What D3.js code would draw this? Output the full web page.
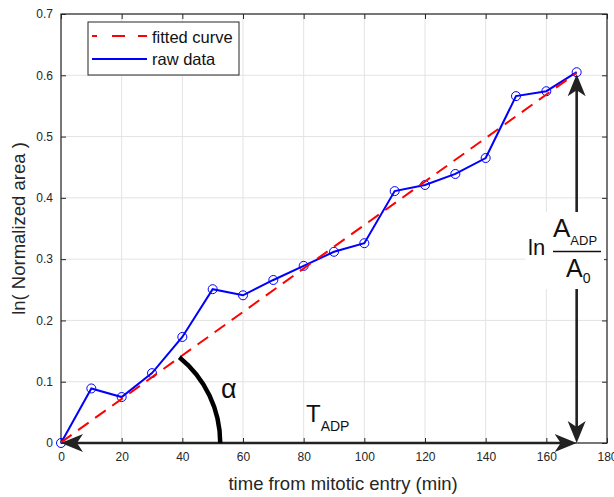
<!DOCTYPE html>
<html>
<head>
<meta charset="utf-8">
<script src="https://cdn.jsdelivr.net/npm/d3@7"></script>
<style>
  body { margin: 0; background: #fff; }
  text { font-family: "Liberation Sans", Arial, sans-serif; }
</style>
</head>
<body>
<figure id="growth" style="margin:0"></figure>
<script>
// raw data (time in min, ln of normalized area)
var times = [0, 10, 20, 30, 40, 50, 60, 70, 80, 90, 100, 110, 120, 130, 140, 150, 160, 170];
var lnArea = [0, 0.089, 0.075, 0.114, 0.173, 0.251, 0.241, 0.266, 0.289, 0.312, 0.326, 0.411, 0.421, 0.439, 0.465, 0.566, 0.574, 0.605];

// fitted line end points
var fitTimes = [0, 170];
var fitValues = [0.001, 0.604];

// tick labels
var xTicks = [0, 20, 40, 60, 80, 100, 120, 140, 160, 180];
var yTicks = [0, 0.1, 0.2, 0.3, 0.4, 0.5, 0.6, 0.7];

var legendLabels = ["fitted curve", "raw data"];

// set the dimensions and margins of the graph
var margin = {top: 14, right: 7, bottom: 54, left: 61},
  width = 614 - margin.left - margin.right,
  height = 497 - margin.top - margin.bottom;

var svg = d3.select("figure#growth")
.append("svg")
  .attr("width", width + margin.left + margin.right)
  .attr("height", height + margin.top + margin.bottom)
.append("g")
  .attr("transform", "translate(" + margin.left + "," + margin.top + ")");

var axisColor = "#262626";

var x = d3.scaleLinear().domain([0, 180]).range([0, width]);
var y = d3.scaleLinear().domain([0, 0.7]).range([height, 0]);

// grid
svg.append("g")
  .selectAll("line")
  .data(xTicks)
  .enter().append("line")
  .attr("x1", d => x(d)).attr("x2", d => x(d))
  .attr("y1", 0).attr("y2", height)
  .attr("stroke", "#e3e3e3");
svg.append("g")
  .selectAll("line")
  .data(yTicks)
  .enter().append("line")
  .attr("y1", d => y(d)).attr("y2", d => y(d))
  .attr("x1", 0).attr("x2", width)
  .attr("stroke", "#e3e3e3");

// axes (matlab box style, ticks inward)
svg.append("g")
  .attr("transform", "translate(0," + height + ")")
  .call(d3.axisBottom(x).tickValues(xTicks).tickSize(-5).tickPadding(9))
  .call(g => g.select(".domain").remove());
svg.append("g")
  .call(d3.axisTop(x).tickValues(xTicks).tickSize(-5).tickFormat(""))
  .call(g => g.select(".domain").remove());
svg.append("g")
  .call(d3.axisLeft(y).tickValues(yTicks).tickSize(-5).tickPadding(8).tickFormat(d3.format("~g")))
  .call(g => g.select(".domain").remove());
svg.append("g")
  .attr("transform", "translate(" + width + ",0)")
  .call(d3.axisRight(y).tickValues(yTicks).tickSize(-5).tickFormat(""))
  .call(g => g.select(".domain").remove());

svg.selectAll(".tick line").attr("stroke", axisColor);
svg.selectAll(".tick text")
  .attr("fill", axisColor)
  .style("font-size", "12px")
  .style("font-family", "Liberation Sans, Arial, sans-serif");

svg.append("rect")
  .attr("width", width).attr("height", height)
  .attr("fill", "none")
  .attr("stroke", axisColor)
  .attr("stroke-width", 1.2);

// axis labels
svg.append("text")
  .attr("x", x(93)).attr("y", height + 47)
  .attr("text-anchor", "middle")
  .attr("fill", axisColor)
  .style("font-size", "18.5px")
  .text("time from mitotic entry (min)");
svg.append("text")
  .attr("transform", "translate(" + (-36) + "," + y(0.35) + ") rotate(-90)")
  .attr("text-anchor", "middle")
  .attr("fill", axisColor)
  .style("font-size", "18.5px")
  .text("ln( Normalized area )");

// raw data line + markers
var pts = times.map((t, i) => [t, lnArea[i]]);
svg.append("path")
  .datum(pts)
  .attr("fill", "none")
  .attr("stroke", "#0000ff")
  .attr("stroke-width", 2)
  .attr("d", d3.line().x(d => x(d[0])).y(d => y(d[1])));
svg.append("g")
  .selectAll("circle")
  .data(pts)
  .enter().append("circle")
  .attr("cx", d => x(d[0])).attr("cy", d => y(d[1]))
  .attr("r", 4.5)
  .attr("fill", "none")
  .attr("stroke", "#0000ff")
  .attr("stroke-width", 1);

// fitted curve
svg.append("path")
  .datum(fitTimes.map((t, i) => [t, fitValues[i]]))
  .attr("fill", "none")
  .attr("stroke", "#ff0000")
  .attr("stroke-width", 2)
  .attr("stroke-dasharray", "13,8")
  .attr("d", d3.line().x(d => x(d[0])).y(d => y(d[1])));

// arrow heads (vback2-like)
function head(px, py, angle) {
  svg.append("path")
    .attr("d", "M0,0 L-22,-9 L-16,0 L-22,9 Z")
    .attr("fill", "#222")
    .attr("transform", "translate(" + px + "," + py + ") rotate(" + angle + ")");
}

var tEnd = times[times.length - 1], aEnd = lnArea[lnArea.length - 1];

// horizontal double arrow: T_ADP
svg.append("line")
  .attr("x1", x(0) + 10).attr("x2", x(tEnd) - 10)
  .attr("y1", y(0)).attr("y2", y(0))
  .attr("stroke", "#222").attr("stroke-width", 2.6);
head(x(0), y(0), 180);
head(x(tEnd), y(0), 0);

// vertical double arrow: ln(A_ADP/A0)
svg.append("line")
  .attr("x1", x(tEnd)).attr("x2", x(tEnd))
  .attr("y1", y(aEnd) + 10).attr("y2", y(0) - 10)
  .attr("stroke", "#222").attr("stroke-width", 2.6);
head(x(tEnd), y(aEnd) + 2, -90);
head(x(tEnd), y(0), 90);

// alpha arc
var p1 = [x(39), y(0.14)], p2 = [x(52.5), y(0)];
var cx = ((p2[0] * p2[0] - p1[0] * p1[0]) - Math.pow(p1[1] - p2[1], 2)) / (2 * (p2[0] - p1[0]));
var r = p2[0] - cx;
svg.append("path")
  .attr("d", "M" + p1[0] + "," + p1[1] + " A" + r + "," + r + " 0 0 1 " + p2[0] + "," + p2[1])
  .attr("fill", "none")
  .attr("stroke", "#000")
  .attr("stroke-width", 4.5);

svg.append("text")
  .attr("x", 160).attr("y", 384)
  .style("font-size", "27px")
  .attr("fill", "#111")
  .text("α");

// T_ADP label
var tl = svg.append("text")
  .attr("x", 245).attr("y", 408)
  .attr("fill", "#111");
tl.append("tspan").style("font-size", "24px").text("T");
tl.append("tspan").attr("dy", 9).style("font-size", "14px").text("ADP");

// ln A_ADP / A0 label on white box
svg.append("rect")
  .attr("x", 464).attr("y", 198)
  .attr("width", 79).attr("height", 77)
  .attr("fill", "#fff");
svg.append("text")
  .attr("x", 467).attr("y", 241)
  .attr("fill", "#111")
  .style("font-size", "22px")
  .text("ln");
var num = svg.append("text")
  .attr("x", 492).attr("y", 223)
  .attr("fill", "#111");
num.append("tspan").style("font-size", "26px").text("A");
num.append("tspan").attr("dy", 8).style("font-size", "13px").text("ADP");
svg.append("line")
  .attr("x1", 492).attr("x2", 540)
  .attr("y1", 237.5).attr("y2", 237.5)
  .attr("stroke", "#111").attr("stroke-width", 1.5);
var den = svg.append("text")
  .attr("x", 505).attr("y", 263)
  .attr("fill", "#111");
den.append("tspan").style("font-size", "25px").text("A");
den.append("tspan").attr("dy", 6).style("font-size", "14px").text("0");

// legend
var legend = svg.append("g").attr("transform", "translate(27,8)");
legend.append("rect")
  .attr("width", 151).attr("height", 53)
  .attr("fill", "#fff")
  .attr("stroke", axisColor);
legend.append("line")
  .attr("x1", 4).attr("x2", 59).attr("y1", 14).attr("y2", 14)
  .attr("stroke", "#ff0000").attr("stroke-width", 2)
  .attr("stroke-dasharray", "5,15,13,13,9");
legend.append("line")
  .attr("x1", 4).attr("x2", 59).attr("y1", 37).attr("y2", 37)
  .attr("stroke", "#0000ff").attr("stroke-width", 2);
legend.selectAll("text.lab")
  .data(legendLabels)
  .enter().append("text")
  .attr("class", "lab")
  .attr("x", 64).attr("y", (d, i) => 21 + i * 22)
  .style("font-size", "16.5px")
  .attr("fill", "#111")
  .text(d => d);
</script>
</body>
</html>
